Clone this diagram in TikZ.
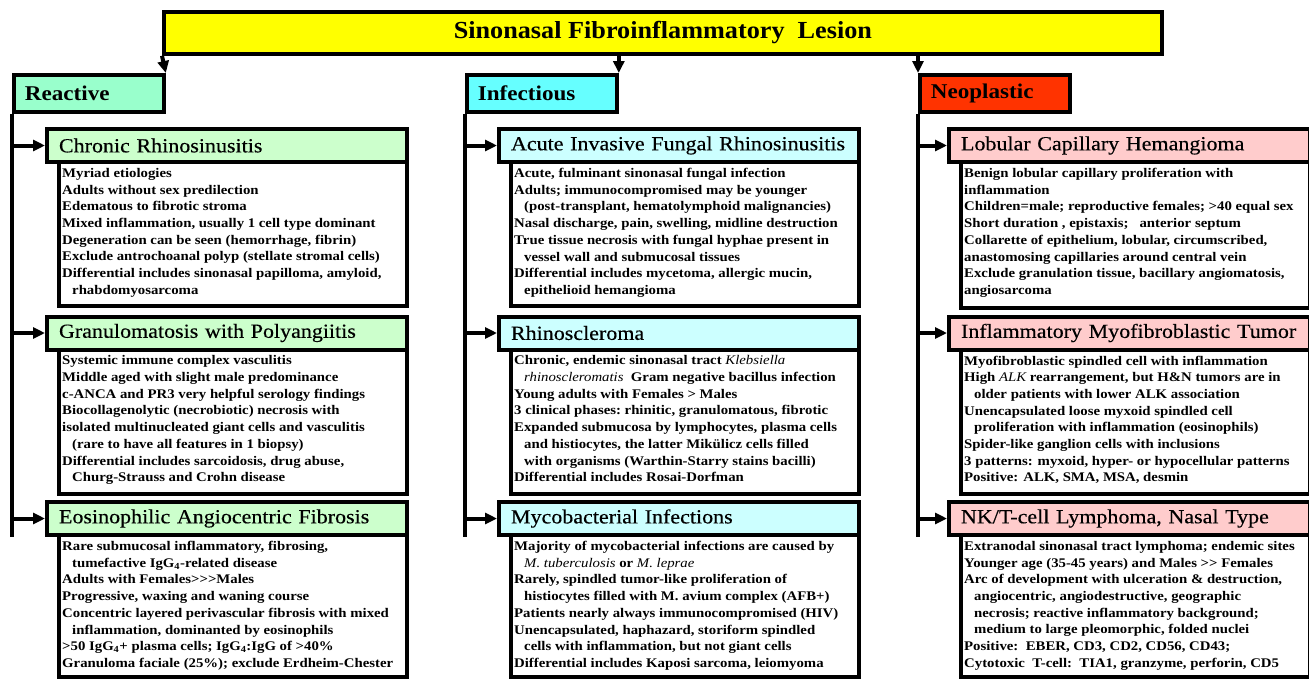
\documentclass[tikz,border=0pt]{standalone}
\usepackage{fontspec}
\setmainfont{Liberation Serif}
\newfontfamily\bodyff{Liberation Serif}[FakeStretch=1.12]
\newfontfamily\hdrff{Liberation Serif}[FakeStretch=1.1,FakeBold=0.35]
\newfontfamily\catff{Liberation Serif}[FakeStretch=1.1]
\newfontfamily\ttlff{Liberation Serif}[FakeStretch=1.07]
\usetikzlibrary{arrows.meta}
\definecolor{ttl}{HTML}{FFFF00}
\definecolor{reaccat}{HTML}{99FFCC}
\definecolor{reachdr}{HTML}{CCFFCC}
\definecolor{infcat}{HTML}{66FFFF}
\definecolor{infhdr}{HTML}{CCFFFF}
\definecolor{neocat}{HTML}{FF3300}
\definecolor{neohdr}{HTML}{FFCCCC}
\newcommand{\bodyfnt}{\bodyff\bfseries\fontsize{13.2}{16.7}\selectfont}
\newcommand{\ind}{\hspace*{10pt}}
\begin{document}
\begin{tikzpicture}[x=1pt,y=-1pt,
  box/.style={draw=black, line width=3.8pt},
  titlebox/.style={box, fill=ttl, anchor=north west, minimum width=998pt, minimum height=42pt, inner sep=0pt, font=\ttlff\bfseries\fontsize{24.5}{28}\selectfont},
  catbox/.style={box, anchor=north west, minimum height=37pt, text width=128pt, inner xsep=11pt, inner ysep=0pt, align=left, font=\catff\bfseries\fontsize{21}{25}\selectfont},
  hdrbox/.style={box, line width=4pt, anchor=north west, minimum height=33pt, text width=336pt, inner xsep=12pt, inner ysep=0pt, align=left, font=\hdrff\fontsize{20}{24}\selectfont},
  bodybox/.style={box, line width=3.5pt, fill=white, anchor=north west, inner sep=0pt, minimum width=348pt, minimum height=144pt},
  bodytext/.style={anchor=north west, inner sep=0pt, align=left, font=\bodyfnt},
  linkw/.style={draw=black, line width=4pt},
  arr/.style={linkw, -{Triangle[length=12pt,width=11pt]}},
]
\useasboundingbox (0,0) rectangle (1309,678);
\fill[white] (0,0) rectangle (1309,678);

% title
\node[titlebox] (title) at (162,10) {Sinonasal Fibroinflammatory\ \ Lesion};

% categories
\node[catbox, fill=reaccat] (reac) at (12,73) {Reactive};
\node[catbox, fill=infcat] (inf) at (465,73) {Infectious};
\node[catbox, fill=neocat] (neo) at (918,73) {Neoplastic};

% ===== Reactive column =====
\node[bodybox] (crsb) at (57,160) {};
\node[bodybox, minimum height=144.5pt] (gpab) at (57,347.5) {};
\node[bodybox, minimum height=142pt] (eafb) at (57,533) {};
\node[hdrbox, fill=reachdr] (crs) at (45,127) {Chronic Rhinosinusitis};
\node[hdrbox, fill=reachdr] (gpa) at (45,314.5) {Granulomatosis with Polyangiitis};
\node[hdrbox, fill=reachdr] (eaf) at (45,500) {Eosinophilic Angiocentric Fibrosis};

\node[bodytext] (crst) at ([xshift=5pt,yshift=-8pt]crsb.north west) {Myriad etiologies\\
Adults without sex predilection\\
Edematous to fibrotic stroma\\
Mixed inflammation, usually 1 cell type dominant\\
Degeneration can be seen (hemorrhage, fibrin)\\
Exclude antrochoanal polyp (stellate stromal cells)\\
Differential includes sinonasal papilloma, amyloid,\\
\ind rhabdomyosarcoma};

\node[bodytext] (gpat) at ([xshift=5pt,yshift=-8pt]gpab.north west) {Systemic immune complex vasculitis\\
Middle aged with slight male predominance\\
c-ANCA and PR3 very helpful serology findings\\
Biocollagenolytic (necrobiotic) necrosis with\\
isolated multinucleated giant cells and vasculitis\\
\ind (rare to have all features in 1 biopsy)\\
Differential includes sarcoidosis, drug abuse,\\
\ind Churg-Strauss and Crohn disease};

\node[bodytext] (eaft) at ([xshift=5pt,yshift=-8pt]eafb.north west) {Rare submucosal inflammatory, fibrosing,\\
\ind tumefactive IgG\textsubscript{4}-related disease\\
Adults with Females>{}>{}>Males\\
Progressive, waxing and waning course\\
Concentric layered perivascular fibrosis with mixed\\
\ind inflammation, dominanted by eosinophils\\
>50 IgG\textsubscript{4}+ plasma cells; IgG\textsubscript{4}:IgG of >40\%\\
Granuloma faciale (25\%); exclude Erdheim-Chester};

% ===== Infectious column =====
\node[bodybox] (aifb) at (509,160) {};
\node[bodybox, minimum height=144.5pt] (rhib) at (509,347.5) {};
\node[bodybox, minimum height=142pt] (mycb) at (509,533) {};
\node[hdrbox, fill=infhdr] (aif) at (497,127) {Acute Invasive Fungal Rhinosinusitis};
\node[hdrbox, fill=infhdr] (rhi) at (497,314.5) {Rhinoscleroma};
\node[hdrbox, fill=infhdr] (myc) at (497,500) {Mycobacterial Infections};

\node[bodytext] (aift) at ([xshift=5pt,yshift=-8pt]aifb.north west) {Acute, fulminant sinonasal fungal infection\\
Adults; immunocompromised may be younger\\
\ind (post-transplant, hematolymphoid malignancies)\\
Nasal discharge, pain, swelling, midline destruction\\
True tissue necrosis with fungal hyphae present in\\
\ind vessel wall and submucosal tissues\\
Differential includes mycetoma, allergic mucin,\\
\ind epithelioid hemangioma};

\node[bodytext] (rhit) at ([xshift=5pt,yshift=-8pt]rhib.north west) {Chronic, endemic sinonasal tract {\mdseries\itshape Klebsiella}\\
\ind {\mdseries\itshape rhinoscleromatis}\ \ Gram negative bacillus infection\\
Young adults with Females > Males\\
3 clinical phases:\ rhinitic, granulomatous, fibrotic\\
Expanded submucosa by lymphocytes, plasma cells\\
\ind and histiocytes, the latter Mikülicz cells filled\\
\ind with organisms (Warthin-Starry stains bacilli)\\
Differential includes Rosai-Dorfman};

\node[bodytext] (myct) at ([xshift=5pt,yshift=-8pt]mycb.north west) {Majority of mycobacterial infections are caused by\\
\ind {\mdseries\itshape M. tuberculosis} or {\mdseries\itshape M. leprae}\\
Rarely, spindled tumor-like proliferation of\\
\ind histiocytes filled with M. avium complex (AFB+)\\
Patients nearly always immunocompromised (HIV)\\
Unencapsulated, haphazard, storiform spindled\\
\ind cells with inflammation, but not giant cells\\
Differential includes Kaposi sarcoma, leiomyoma};

% ===== Neoplastic column =====
\node[bodybox, minimum width=349pt, minimum height=146pt] (lchb) at (959,160) {};
\node[bodybox, minimum width=349pt, minimum height=144.5pt] (imtb) at (959,347.5) {};
\node[bodybox, minimum width=349pt, minimum height=142pt] (nktb) at (959,533) {};
\node[hdrbox, fill=neohdr, text width=337pt] (lch) at (947,127) {Lobular Capillary Hemangioma};
\node[hdrbox, fill=neohdr, text width=337pt] (imt) at (947,314.5) {Inflammatory Myofibroblastic Tumor};
\node[hdrbox, fill=neohdr, text width=337pt] (nkt) at (947,500) {NK/T-cell Lymphoma, Nasal Type};

\node[bodytext] (lcht) at ([xshift=5pt,yshift=-8pt]lchb.north west) {Benign lobular capillary proliferation with\\
inflammation\\
Children=male; reproductive females; >40 equal sex\\
Short duration , epistaxis;\ \ \ anterior septum\\
Collarette of epithelium, lobular, circumscribed,\\
anastomosing capillaries around central vein\\
Exclude granulation tissue, bacillary angiomatosis,\\
angiosarcoma};

\node[bodytext] (imtt) at ([xshift=5pt,yshift=-8pt]imtb.north west) {Myofibroblastic spindled cell with inflammation\\
High {\mdseries\itshape ALK} rearrangement, but H\&N tumors are in\\
\ind older patients with lower ALK association\\
Unencapsulated loose myxoid spindled cell\\
\ind proliferation with inflammation (eosinophils)\\
Spider-like ganglion cells with inclusions\\
3 patterns: myxoid, hyper- or hypocellular patterns\\
Positive: ALK, SMA, MSA, desmin};

\node[bodytext] (nktt) at ([xshift=5pt,yshift=-8pt]nktb.north west) {Extranodal sinonasal tract lymphoma; endemic sites\\
Younger age (35-45 years) and Males >{}> Females\\
Arc of development with ulceration \& destruction,\\
\ind angiocentric, angiodestructive, geographic\\
\ind necrosis; reactive inflammatory background;\\
\ind medium to large pleomorphic, folded nuclei\\
Positive:\ \ EBER, CD3, CD2, CD56, CD43;\\
Cytotoxic\ \ T-cell:\ \ TIA1, granzyme, perforin, CD5};

% ===== connectors =====
\draw[arr] (title.south west) -- (reac.north east);
\draw[arr] (inf.north east |- title.south) -- (inf.north east);
\draw[arr] (neo.north west |- title.south) -- (neo.north west);

\coordinate (reacend) at (reac.south west |- eaf.south);
\coordinate (infend) at (inf.south west |- myc.south);
\coordinate (neoend) at (neo.south west |- nkt.south);
\draw[linkw] (reac.south west) -- (reacend);
\draw[linkw] (inf.south west) -- (infend);
\draw[linkw] (neo.south west) -- (neoend);

\draw[arr] (reac.south west |- crs.west) -- (crs.west);
\draw[arr] (reac.south west |- gpa.west) -- (gpa.west);
\draw[arr] (reac.south west |- eaf.west) -- (eaf.west);
\draw[arr] (inf.south west |- aif.west) -- (aif.west);
\draw[arr] (inf.south west |- rhi.west) -- (rhi.west);
\draw[arr] (inf.south west |- myc.west) -- (myc.west);
\draw[arr] (neo.south west |- lch.west) -- (lch.west);
\draw[arr] (neo.south west |- imt.west) -- (imt.west);
\draw[arr] (neo.south west |- nkt.west) -- (nkt.west);
\end{tikzpicture}
\end{document}
